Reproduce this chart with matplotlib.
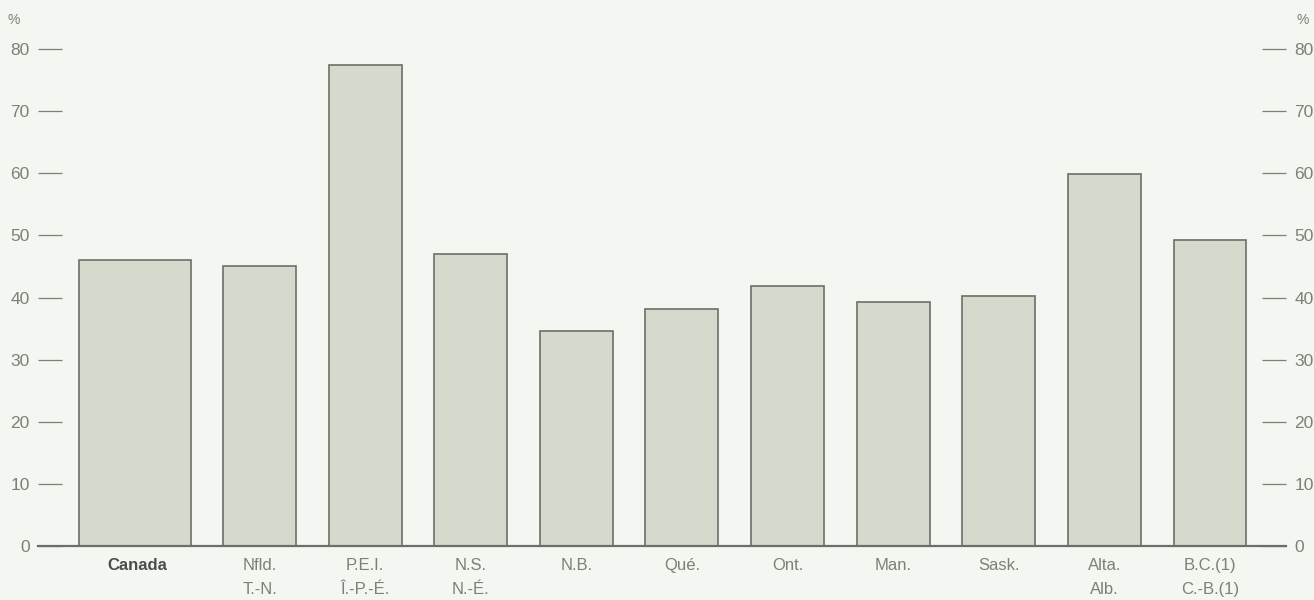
import matplotlib
matplotlib.use("Agg")
import matplotlib.pyplot as plt
import numpy as np

# ---- data ----
categories_en = ["Canada", "Nfld.", "P.E.I.", "N.S.", "N.B.", "Qué.", "Ont.", "Man.", "Sask.", "Alta.", "B.C.(1)"]
categories_fr = ["", "T.-N.", "Î.-P.-É.", "N.-É.", "", "", "", "", "", "Alb.", "C.-B.(1)"]
values = [46.0, 45.1, 77.5, 47.0, 34.6, 38.1, 41.8, 39.2, 40.2, 59.8, 49.3]
yticks = [0, 10, 20, 30, 40, 50, 60, 70, 80]

plt.rcParams['font.family'] = ['Liberation Sans', 'DejaVu Sans']

bg = "#f4f6f1"
fill = "#d4dbcc"
edge = "#6c6f69"
txt = "#7b8078"

fig = plt.figure(figsize=(13.14, 6.0), dpi=100, facecolor=bg)
ax = fig.add_axes([38/1314, 1 - 546/600, (1286 - 38)/1314, (546 - 49)/600])
ax.set_facecolor(bg)

n = len(values)
x = np.arange(n, dtype=float)
x[0] -= 0.18
widths = np.full(n, 0.69)
widths[0] = 1.06

ax.bar(x, values, width=widths, color=fill, edgecolor=edge, linewidth=1.2, zorder=2)

ax.set_xlim(-1.0975, 10.72)
ax.set_ylim(0, 80)

for s in ["top", "left", "right"]:
    ax.spines[s].set_visible(False)
ax.spines["bottom"].set_color(edge)
ax.spines["bottom"].set_linewidth(1.6)
ax.spines["bottom"].set_zorder(3)

ax.set_yticks(yticks)
ax.set_yticklabels([str(v) for v in yticks])
ax.tick_params(axis="y", which="both", direction="in", length=17, width=0.9,
               color=txt, labelcolor=txt, labelsize=12.5,
               left=True, right=True, labelleft=True, labelright=True)
ax.tick_params(axis="y", which="both", labelleft=True, pad=8)
for t in ax.yaxis.get_major_ticks():
    t.label2.set_x(1.0)
ax.yaxis.set_tick_params(which="both", pad=6)

ax.set_xticks([])

# category labels
for i, (en, fr) in enumerate(zip(categories_en, categories_fr)):
    xc = x[i] + (0.02 if i == 0 else 0)
    ax.text(xc, -3.2, en, ha="center", va="center", fontsize=12,
            color="#4a4d48" if i == 0 else txt,
            fontweight="bold" if i == 0 else "normal")
    if fr:
        ax.text(xc, -7.0, fr, ha="center", va="center", fontsize=12, color=txt)

# percent signs
fig.text(14/1314, 1 - 20/600, "%", ha="center", va="center", fontsize=10, color=txt)
fig.text(1303/1314, 1 - 20/600, "%", ha="center", va="center", fontsize=10, color=txt)

fig.savefig("out.png", dpi=100, facecolor=bg)
